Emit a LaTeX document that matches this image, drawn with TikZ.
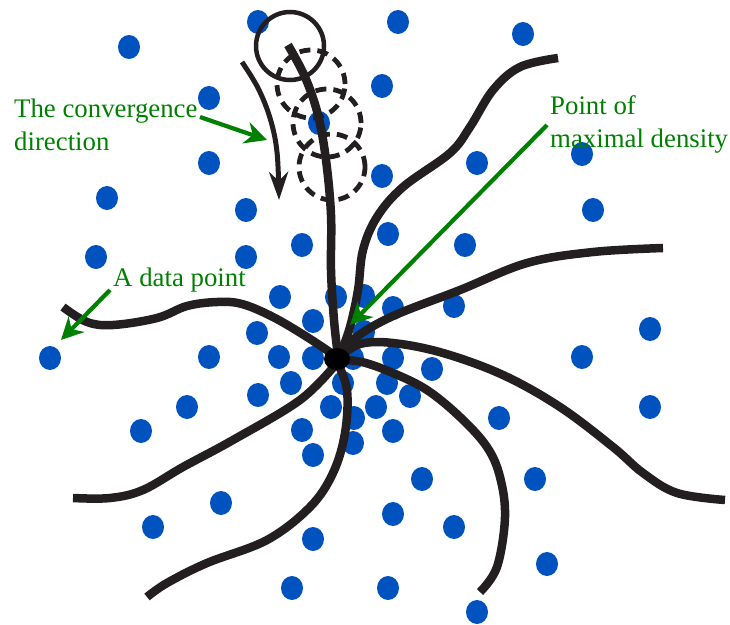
\documentclass[tikz,border=0pt]{standalone}
\usepackage{fontspec}
\setmainfont{Liberation Serif}
\newfontfamily\labelserif{Liberation Serif}
\usetikzlibrary{arrows.meta}
\definecolor{dotblue}{RGB}{0,82,190}
\definecolor{curveblack}{RGB}{35,31,32}
\definecolor{labelgreen}{RGB}{0,128,0}
\begin{document}
\begin{tikzpicture}[x=1pt,y=-1pt,
  datadot/.style={fill=dotblue},
  flowline/.style={draw=curveblack,line width=8.5pt},
  greenlabel/.style={text=labelgreen,font=\labelserif\fontsize{26.8}{32.5}\selectfont,inner sep=0pt,align=left,anchor=base west},
  greenarrow/.style={draw=labelgreen,line width=4.2pt,-{Stealth[length=22pt,width=22pt,inset=7pt]}},
  solidring/.style={draw=curveblack,line width=4.5pt},
  dashring/.style={draw=curveblack,line width=4.8pt,dash pattern=on 11pt off 7pt},
  convarrow/.style={draw=curveblack,line width=5pt,-{Stealth[length=28pt,width=19pt,inset=9pt]}}
]
\useasboundingbox (0,0) rectangle (730,624);
% data points
\foreach \px/\py in {129/47,258/22,398/22,523/34,209/98,382/86,319/123,209/163,477/163,382/176,582/154,107/198,246/210,593/210,96/257,246/257,302/245,388/234,465/245,280/297,336/297,364/296,393/308,454/306,313/321,257/333,364/332,650/329,50/358,209/357,279/357,313/358,353/358,393/358,432/369,582/357,291/383,343/383,387/383,258/395,410/396,187/407,331/407,376/407,650/407,499/418,141/431,302/430,354/418,393/431,353/443,313/455,422/479,535/479,221/503,393/514,454/527,153/527,313/539,547/564,292/588,388/588,477/612}
  \fill[datadot] (\px,\py) ellipse [x radius=11pt,y radius=12pt];
% flow curves
\draw[flowline] plot[smooth,tension=0.6] coordinates {(288,45) (305,77) (318,115) (326,160) (331,215) (331,270) (334,320) (338,356)};
\draw[flowline] plot[smooth,tension=0.6] coordinates {(558,58) (520,67) (493,90) (470,127) (450,153) (403,187) (377,217) (363,250) (358,290) (350,327) (340,355)};
\draw[flowline] plot[smooth,tension=0.6] coordinates {(663,248) (593,252) (527,263) (460,290) (393,316) (355,338) (340,356)};
\draw[flowline] plot[smooth,tension=0.6] coordinates {(725,500) (677,493) (643,473) (613,447) (560,407) (503,375) (443,353) (393,343) (360,344) (340,357)};
\draw[flowline] plot[smooth,tension=0.6] coordinates {(340,360) (362,362) (393,373) (427,390) (460,417) (487,447) (500,477) (505,517) (497,567) (480,592)};
\draw[flowline] plot[smooth,tension=0.6] coordinates {(337,362) (347,390) (345,433) (333,473) (310,507) (267,540) (207,563) (167,583) (147,597)};
\draw[flowline] plot[smooth,tension=0.6] coordinates {(336,364) (300,400) (233,440) (183,467) (143,490) (110,498) (73,498)};
\draw[flowline] plot[smooth,tension=0.6] coordinates {(63,307) (87,322) (113,325) (157,318) (187,306) (217,302) (242,304) (273,317) (307,337) (337,357)};
% hub
\fill[black] (337,359) ellipse [x radius=13pt,y radius=11pt];
% kernel windows
\draw[solidring] (290,46) circle [radius=34pt];
\draw[dashring] (311,84) circle [radius=34pt];
\draw[dashring] (327,123) circle [radius=34pt];
\draw[dashring] (332,167) circle [radius=33pt];
% convergence direction arrow
\draw[convarrow] plot[smooth,tension=0.6] coordinates {(242,62) (258,88) (270,118) (277,152) (279,200)};
% labels
\node[greenlabel] (conv) at (14,150) {The convergence\\direction};
\node[greenlabel] (datapt) at (113,286) {A data point};
\node[greenlabel] (maxdens) at (550,147) {Point of\\maximal density};
\coordinate (convtail) at (200,117);
\coordinate (convtip) at (267,140);
\coordinate (datatail) at (110,290);
\coordinate (datatip) at (61,340);
\coordinate (denstail) at (547,125);
\coordinate (denstip) at (350,325);
\draw[greenarrow] (convtail) -- (convtip);
\draw[greenarrow] (datatail) -- (datatip);
\draw[greenarrow] (denstail) -- (denstip);
\end{tikzpicture}
\end{document}
